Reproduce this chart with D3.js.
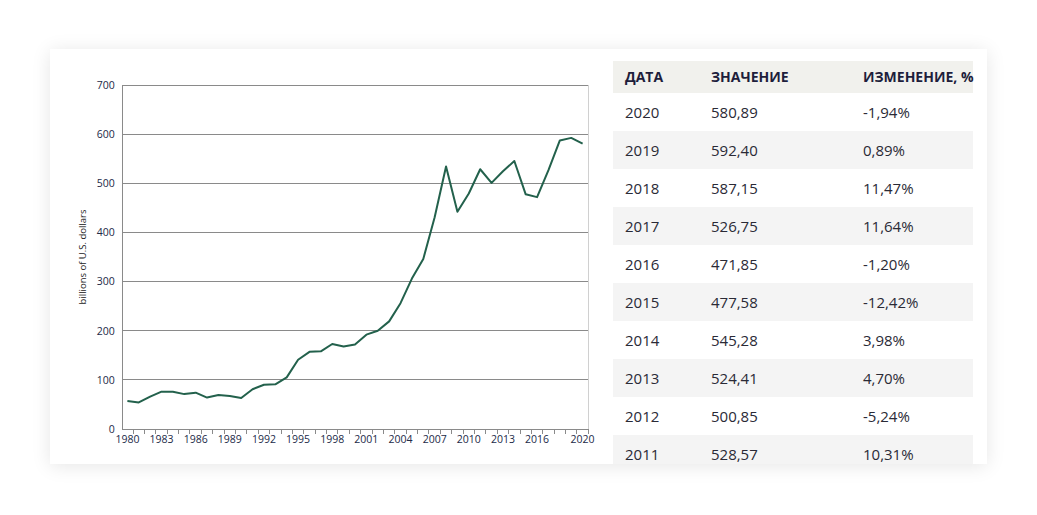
<!DOCTYPE html>
<html>
<head>
<meta charset="utf-8">
<script src="https://cdn.jsdelivr.net/npm/d3@7"></script>
<style>
  html, body { margin: 0; padding: 0; background: #ffffff; width: 1037px; height: 515px; overflow: hidden; }
  #card { position: absolute; left: 50px; top: 49px; width: 937px; height: 415px; background: #fff;
          box-shadow: 0 2px 18px rgba(0,0,0,0.10); overflow: hidden; }
  #card svg { position: absolute; left: -50px; top: -49px; }
</style>
</head>
<body>
<div id="card"></div>
<script>
// ---- data ----
const years = d3.range(1980, 2021);
const values = [57, 54, 66, 76, 76, 71, 74, 64, 69, 67,
                63, 81, 90, 91, 105, 141, 157, 158, 173, 168,
                172, 192, 200, 219, 256, 306, 346, 431, 534, 442,
                479.17, 528.57, 500.85, 524.41, 545.28, 477.58, 471.85, 526.75, 587.15, 592.40,
                580.89];
const xTickLabels = [1980, 1983, 1986, 1989, 1992, 1995, 1998, 2001, 2004, 2007, 2010, 2013, 2016, 2020];
const yTicks = [0, 100, 200, 300, 400, 500, 600, 700];
const yLabel = "billions of U.S. dollars";

const tableHeaders = ["ДАТА", "ЗНАЧЕНИЕ", "ИЗМЕНЕНИЕ, %"];
const tableYears = [2020, 2019, 2018, 2017, 2016, 2015, 2014, 2013, 2012, 2011];
const tableValues = [580.89, 592.40, 587.15, 526.75, 471.85, 477.58, 545.28, 524.41, 500.85, 528.57];
const tableChanges = [-1.94, 0.89, 11.47, 11.64, -1.20, -12.42, 3.98, 4.70, -5.24, 10.31];

// ---- chart ----
const svg = d3.select("#card").append("svg").attr("width", 1037).attr("height", 515);

const plot = { left: 121.7, right: 588.3, top: 85, bottom: 429 };
const x = d3.scaleBand().domain(years).range([plot.left, plot.right]);
const y = d3.scaleLinear().domain([0, 700]).range([plot.bottom, plot.top]);
const cx = yr => x(yr) + x.bandwidth() / 2;

const tickFont = "'Open Sans', sans-serif";
const tickColor = "#222a48";

// gridlines
svg.append("g").selectAll("line").data(yTicks.filter(d => d > 0)).join("line")
  .attr("x1", plot.left).attr("x2", plot.right)
  .attr("y1", d => y(d)).attr("y2", d => y(d))
  .attr("stroke", "#8a8a8a").attr("stroke-width", 1).attr("shape-rendering", "crispEdges");

// right border
svg.append("line").attr("x1", plot.right).attr("x2", plot.right)
  .attr("y1", plot.top).attr("y2", plot.bottom)
  .attr("stroke", "#d0d0d0").attr("shape-rendering", "crispEdges");

// y axis
const yAxis = svg.append("g").attr("transform", `translate(${plot.left},0)`)
  .call(d3.axisLeft(y).tickValues(yTicks).tickSize(0).tickPadding(7));
yAxis.select(".domain").attr("stroke", "#8a8a8a").attr("shape-rendering", "crispEdges");
yAxis.selectAll("text").attr("font-family", tickFont).attr("font-size", "10.5px").attr("fill", tickColor);

// x axis: ticks between categories
const xAxisG = svg.append("g").attr("transform", `translate(0,${plot.bottom})`);
xAxisG.append("line").attr("x1", plot.left).attr("x2", plot.right).attr("y1", 0).attr("y2", 0)
  .attr("stroke", "#8a8a8a").attr("shape-rendering", "crispEdges");
xAxisG.selectAll("line.tk").data(years).join("line").attr("class", "tk")
  .attr("x1", d => x(d) + x.bandwidth()).attr("x2", d => x(d) + x.bandwidth())
  .attr("y1", 0).attr("y2", 5)
  .attr("stroke", "#8a8a8a").attr("shape-rendering", "crispEdges");
xAxisG.selectAll("text").data(xTickLabels).join("text")
  .attr("x", d => cx(d)).attr("y", 14)
  .attr("text-anchor", "middle")
  .attr("font-family", tickFont).attr("font-size", "10.5px").attr("fill", tickColor)
  .text(d => d);

// y label
svg.append("text")
  .attr("transform", `translate(86,257) rotate(-90)`)
  .attr("text-anchor", "middle")
  .attr("font-family", tickFont).attr("font-size", "9.5px").attr("fill", "#222")
  .text(yLabel);

// line
const line = d3.line().x((d, i) => cx(years[i])).y(d => y(d));
svg.append("path").datum(values)
  .attr("d", line).attr("fill", "none")
  .attr("stroke", "#23614c").attr("stroke-width", 2).attr("stroke-linejoin", "round");

// ---- table ----
const tbl = { left: 613, right: 973, headTop: 61, headH: 32, rowH: 38 };
const colX = [625, 711, 863];
const tg = svg.append("g");
tg.append("rect").attr("x", tbl.left).attr("y", tbl.headTop)
  .attr("width", tbl.right - tbl.left).attr("height", tbl.headH).attr("fill", "#f1f1ed");
tg.selectAll("text.h").data(tableHeaders).join("text").attr("class", "h")
  .attr("x", (d, i) => colX[i]).attr("y", tbl.headTop + 21)
  .attr("font-family", tickFont).attr("font-weight", "bold").attr("font-size", "14px")
  .attr("fill", "#1e1e3c").text(d => d);

const fmt = v => v.toFixed(2).replace(".", ",");
const rowTop = tbl.headTop + tbl.headH;
const rows = tg.selectAll("g.r").data(tableYears).join("g").attr("class", "r")
  .attr("transform", (d, i) => `translate(0,${rowTop + i * tbl.rowH})`);
rows.append("rect").attr("x", tbl.left).attr("width", tbl.right - tbl.left).attr("height", tbl.rowH)
  .attr("fill", (d, i) => i % 2 ? "#f4f4f4" : "#ffffff");
rows.append("text").attr("x", colX[0]).attr("y", 24.5)
  .text(d => d);
rows.append("text").attr("x", colX[1]).attr("y", 24.5)
  .text((d, i) => fmt(tableValues[i]));
rows.append("text").attr("x", colX[2]).attr("y", 24.5)
  .text((d, i) => fmt(tableChanges[i]) + "%");
rows.selectAll("text").attr("font-family", tickFont).attr("font-size", "15px").attr("fill", "#2a2a36");
</script>
</body>
</html>
